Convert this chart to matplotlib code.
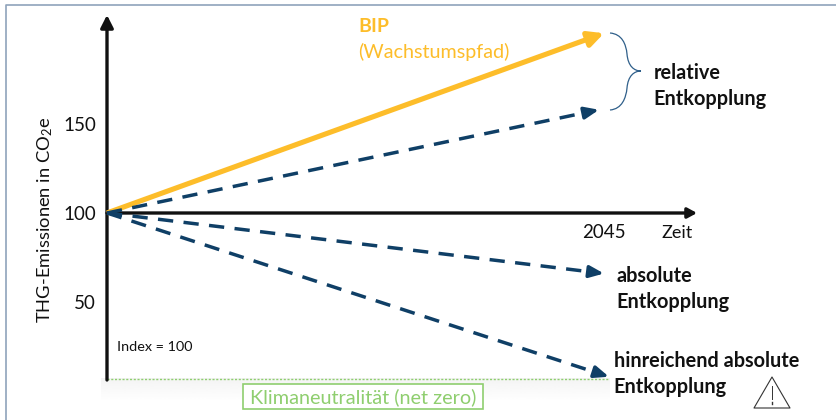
import matplotlib
matplotlib.use('Agg')
import matplotlib.pyplot as plt
import numpy as np
from matplotlib.patches import PathPatch, Polygon, Rectangle
from matplotlib.path import Path
from matplotlib.transforms import Affine2D

plt.rcParams['font.family'] = ['Lato', 'DejaVu Sans']
plt.rcParams['mathtext.default'] = 'regular'

W, H = 837, 420

start_year = 2020
start_index = 100
end_years = [2045, 2044.75, 2045, 2045.25]
bip_end = 201
relative_end = 158
absolute_end = 66
sufficient_end = 8
net_zero = 7
y_ticks = [50, 100, 150]

NAVY = '#0f3f66'
YELLOW = '#fdbd2a'
GREEN = '#8fce6f'

fig = plt.figure(figsize=(W / 100, H / 100), dpi=100)
ax = fig.add_axes([0, 0, 1, 1])
ax.axis('off')

# image pixel coordinates for the annotations around the chart
px = Affine2D().scale(1 / W, -1 / H).translate(0, 1) + fig.transFigure


def arrow(end_year, end_value, color, lw, dashed=False, head=(0.9, 0.45)):
    # line stops short of the tip so it does not poke through the head
    frac = 0.975 if dashed else 0.98
    xe = start_year + (end_year - start_year) * frac
    ye = start_index + (end_value - start_index) * frac
    ls = (0, (4.4, 3.0)) if dashed else '-'
    ax.plot([start_year, xe], [start_index, ye], color=color, lw=lw, ls=ls,
            solid_capstyle='butt', dash_capstyle='butt', zorder=3)
    ax.annotate('', xy=(end_year, end_value), xytext=(xe, ye),
                arrowprops=dict(arrowstyle='-|>,head_length=%g,head_width=%g' % head,
                                color=color, lw=lw, shrinkA=0, shrinkB=0), zorder=4)


# frame of the slide
ax.plot([6, 6, W], [H, 5, 5], color='#8fa3bb', lw=1.2, transform=px, zorder=1)

# soft shadow under the net zero line
shade = np.linspace(0.955, 1, 50).reshape(-1, 1)
ax.imshow(shade, cmap='gray', vmin=0, vmax=1, aspect='auto', zorder=0,
          extent=(2020 - 0.3, 2045.3, net_zero - 13, net_zero))

# one year = 19.88 px, one index point = 1.78 px
ax.set_xlim(start_year - 107 / 19.88, start_year + (W - 107) / 19.88)
ax.set_ylim(start_index - (H - 213) / 1.78, start_index + 213 / 1.78)

# axes
ax.annotate('', xy=(107, 15), xytext=(107, 380), xycoords=px, textcoords=px,
            arrowprops=dict(arrowstyle='-|>,head_length=0.75,head_width=0.38',
                            color='#111111', lw=2.4, shrinkA=0, shrinkB=0), zorder=2)
ax.annotate('', xy=(697, 213), xytext=(107, 213), xycoords=px, textcoords=px,
            arrowprops=dict(arrowstyle='-|>,head_length=0.55,head_width=0.3',
                            color='#111111', lw=2.4, shrinkA=0, shrinkB=0), zorder=2)

# net zero line
ax.plot([2020, 2045.25], [net_zero, net_zero], color=GREEN, lw=1, ls=(0, (1.5, 1.2)), zorder=1)

# paths
arrow(end_years[0], bip_end, YELLOW, 3.7, head=(0.9, 0.45))
arrow(end_years[1], relative_end, NAVY, 2.5, dashed=True, head=(0.85, 0.35))
arrow(end_years[2], absolute_end, NAVY, 2.5, dashed=True, head=(0.85, 0.35))
arrow(end_years[3], sufficient_end, NAVY, 2.5, dashed=True, head=(0.85, 0.35))

# tick labels
for v in y_ticks:
    ax.text(2020 - 0.55, v - 0.9, str(v), fontsize=13.5, color='#111111', ha='right', va='center')
ax.text(604, 232, '2045', fontsize=13.5, color='#111111', ha='center', va='center', transform=px)
ax.text(677, 233, 'Zeit', fontsize=13, color='#111111', ha='center', va='center', transform=px)
ax.text(45, 220, 'THG-Emissionen in CO$_2$e', fontsize=13.2, color='#111111', rotation=90,
        ha='center', va='center', transform=px)

# labels
ax.text(358, 27, 'BIP', fontsize=14, fontweight='bold', color=YELLOW, va='center', transform=px)
ax.text(358, 52, '(Wachstumspfad)', fontsize=14.2, color=YELLOW, va='center', transform=px)
ax.text(653.5, 73, 'relative', fontsize=14.3, fontweight='bold', color='#111111', va='center', transform=px)
ax.text(653, 99, 'Entkopplung', fontsize=14.3, fontweight='bold', color='#111111', va='center', transform=px)
ax.text(617, 276, 'absolute', fontsize=14.3, fontweight='bold', color='#111111', va='center', transform=px)
ax.text(616, 302, 'Entkopplung', fontsize=14.3, fontweight='bold', color='#111111', va='center', transform=px)
ax.text(614, 361, 'hinreichend absolute', fontsize=14.3, fontweight='bold', color='#111111', va='center', transform=px)
ax.text(613, 387, 'Entkopplung', fontsize=14.3, fontweight='bold', color='#111111', va='center', transform=px)
ax.text(117, 347, 'Index = 100', fontsize=10.4, color='#111111', va='center', transform=px)

# net zero box
ax.add_patch(Rectangle((243, 384), 240, 25, fc='white', ec=GREEN, lw=1.2, transform=px, zorder=5))
ax.text(363, 397, 'Klimaneutralität (net zero)', fontsize=14.3, color=GREEN,
        ha='center', va='center', transform=px, zorder=6)

# brace
verts = [(610, 33), (622, 34), (626, 44), (627, 54), (628, 66), (634, 71), (641, 71),
         (634, 71), (628, 76), (627, 88), (626, 98), (622, 109), (610, 110)]
codes = [Path.MOVETO] + [Path.CURVE4] * 12
ax.add_patch(PathPatch(Path(verts, codes), fc='none', ec='#2f5f8a', lw=0.9, transform=px, zorder=3))

# warning sign
ax.add_patch(Polygon([(772, 377), (790, 408), (754, 408)], closed=True, fc='white', ec='#333333',
                     lw=0.8, joinstyle='round', transform=px, zorder=3))
ax.plot([772, 772], [386, 399], color='#333333', lw=0.7, transform=px, zorder=4)
ax.plot([772, 772], [402, 403.5], color='#333333', lw=1.0, transform=px, zorder=4)

fig.savefig('out.png', dpi=100)
